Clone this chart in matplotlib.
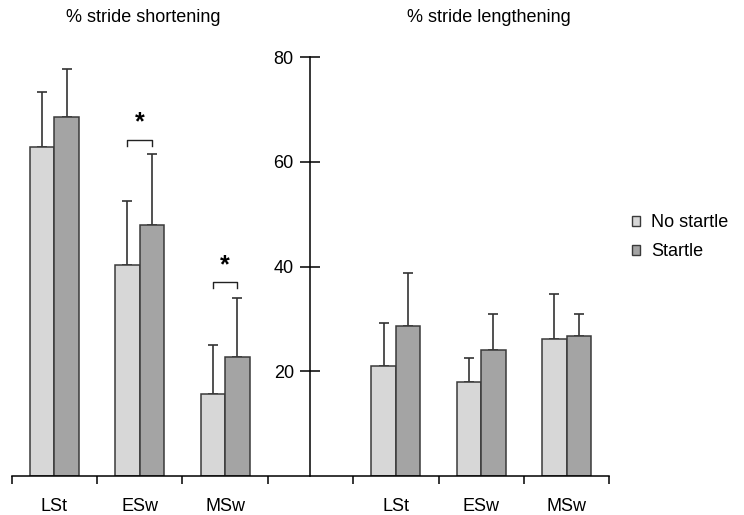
import numpy as np
import matplotlib
matplotlib.use('Agg')
import matplotlib.pyplot as plt
from matplotlib.patches import Patch

plt.rcParams['font.family'] = ['Liberation Sans', 'DejaVu Sans']

# Data (mean % change, upward SD)
categories = ['LSt', 'ESw', 'MSw', '', 'LSt', 'ESw', 'MSw']
no_startle = [62.9, 40.3, 15.6, np.nan, 21.1, 17.9, 26.1]
no_startle_err = [10.4, 12.2, 9.4, np.nan, 8.1, 4.7, 8.6]
startle = [68.6, 47.9, 22.8, np.nan, 28.6, 24.0, 26.7]
startle_err = [9.2, 13.6, 11.3, np.nan, 10.2, 7.0, 4.3]

titles = ['% stride shortening', '% stride lengthening']
y_ticks = [20, 40, 60, 80]

# significance brackets: (category index, bracket top, leg bottom, star y)
sig_x = [1, 2]
sig_top = [64.2, 37.0]
sig_leg = [63.0, 36.0]
sig_star = [67.6, 40.3]

light = '#d7d7d7'
dark = '#a4a4a4'
edge = '#3a3a3a'

fig = plt.figure(figsize=(7.44, 5.15), dpi=100)
ax = fig.add_axes([0.0157, 0.0757, 0.8032, 0.813])

x = np.arange(len(categories))
w = 0.287
ax.bar(x - w / 2, no_startle, w, color=light, edgecolor=edge, linewidth=1.1, zorder=2)
ax.bar(x + w / 2, startle, w, color=dark, edgecolor=edge, linewidth=1.1, zorder=2)

zeros = np.zeros(len(categories))
ax.errorbar(x - w / 2, no_startle, yerr=[zeros, no_startle_err], fmt='none',
            ecolor='#333333', elinewidth=1.2, capsize=3.8, capthick=1.2, zorder=1)
ax.errorbar(x + w / 2, startle, yerr=[zeros, startle_err], fmt='none',
            ecolor='#333333', elinewidth=1.2, capsize=3.8, capthick=1.2, zorder=1)

# brackets with stars
for cx, top, leg, star in zip(sig_x, sig_top, sig_leg, sig_star):
    x1, x2 = cx - w / 2, cx + w / 2
    ax.plot([x1, x1, x2, x2], [leg, top, top, leg], color='#222222', lw=1.0)
    ax.text(cx, star, '*', ha='center', va='center', fontsize=18, fontweight='bold')

ax.set_xlim(-0.5, len(categories) - 0.5)
ax.set_ylim(0, 80)

for s in ['top', 'right']:
    ax.spines[s].set_visible(False)
# y axis sits in the middle of the empty slot
ax.spines['left'].set_position(('data', 3))
ax.spines['left'].set_linewidth(1.1)
ax.spines['bottom'].set_linewidth(1.1)

ax.set_yticks(y_ticks)
ax.tick_params(axis='y', direction='inout', length=14, width=1.1, pad=5, labelsize=13)

ax.set_xticks(np.arange(len(categories) + 1) - 0.5)
ax.set_xticklabels([])
ax.tick_params(axis='x', which='major', direction='out', length=6, width=1.1)
ax.set_xticks(x, minor=True)
ax.set_xticklabels(categories, minor=True)
ax.tick_params(axis='x', which='minor', length=0, pad=16, labelsize=13)

fig.text(143 / 744, 1 - 18 / 515, titles[0], ha='center', va='center', fontsize=13)
fig.text(489 / 744, 1 - 18 / 515, titles[1], ha='center', va='center', fontsize=13)

handles = [Patch(facecolor=light, edgecolor=edge, linewidth=1.0),
           Patch(facecolor=dark, edgecolor=edge, linewidth=1.0)]
fig.legend(handles, ['No startle', 'Startle'], loc='center left',
           bbox_to_anchor=(0.840, 0.539), frameon=False, fontsize=13,
           handlelength=0.45, handleheight=0.45, handletextpad=0.6,
           labelspacing=0.67, borderaxespad=0)

fig.savefig('out.png', dpi=100)
